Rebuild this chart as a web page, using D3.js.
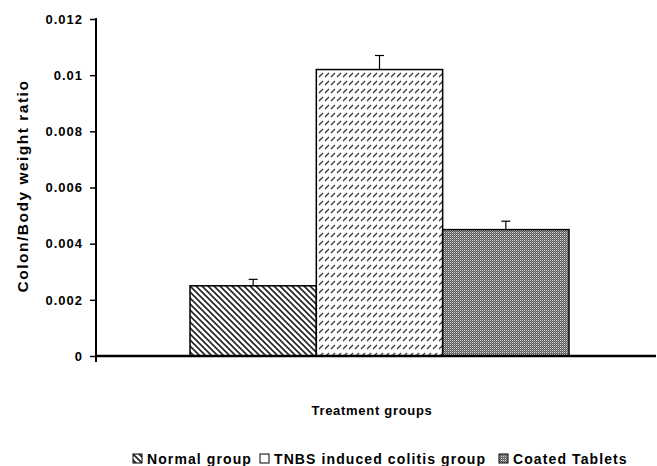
<!DOCTYPE html>
<html>
<head>
<meta charset="utf-8">
<script src="https://cdn.jsdelivr.net/npm/d3@7"></script>
<style>
  body { margin: 0; background: #fff; }
  text { font-family: Arial, "Liberation Sans", sans-serif; font-weight: bold; fill: #000; }
</style>
</head>
<body>
<svg id="chart" width="657" height="466"></svg>
<script>
// data
var groups = ['Normal group', 'TNBS induced colitis group', 'Coated Tablets'];
var means = [0.0025, 0.0102, 0.0045];
var errors = [0.00023, 0.0005, 0.0003];
var yTicks = [0, 0.002, 0.004, 0.006, 0.008, 0.01, 0.012];
var yTickLabels = ['0', '0.002', '0.004', '0.006', '0.008', '0.01', '0.012'];
var patternIds = ['pat-normal', 'pat-tnbs', 'pat-coated'];
var legendFills = ['url(#pat-normal)', '#fff', 'url(#pat-coated)'];

var svg = d3.select('#chart');
var plotLeft = 96, plotRight = 656, plotTop = 19, plotBottom = 356;

// fill patterns
var defs = svg.append('defs');

var p1 = defs.append('pattern')
    .attr('id', 'pat-normal')
    .attr('patternUnits', 'userSpaceOnUse')
    .attr('width', 6).attr('height', 6);
p1.append('rect').attr('width', 6).attr('height', 6).attr('fill', '#fff');
p1.append('path')
    .attr('d', 'M-1.5,-1.5 L7.5,7.5 M-1.5,4.5 L1.5,7.5 M4.5,-1.5 L7.5,1.5')
    .attr('stroke', '#222').attr('stroke-width', 1.6);

var p2 = defs.append('pattern')
    .attr('id', 'pat-tnbs')
    .attr('patternUnits', 'userSpaceOnUse')
    .attr('width', 6).attr('height', 8);
p2.append('rect').attr('width', 6).attr('height', 8).attr('fill', '#fff');
p2.append('path')
    .attr('d', 'M1,5 L5,1')
    .attr('stroke', '#333').attr('stroke-width', 1.3);

var p3 = defs.append('pattern')
    .attr('id', 'pat-coated')
    .attr('patternUnits', 'userSpaceOnUse')
    .attr('width', 2).attr('height', 2);
p3.append('rect').attr('width', 2).attr('height', 2).attr('fill', '#5a5a5a');
p3.append('rect').attr('width', 1).attr('height', 1).attr('fill', '#d8d8d8');
p3.append('rect').attr('x', 1).attr('y', 1).attr('width', 1).attr('height', 1).attr('fill', '#8a8a8a');

// scales
var x = d3.scaleBand()
    .domain(groups)
    .range([190, 569])
    .padding(0);

var y = d3.scaleLinear()
    .domain([0, 0.012])
    .range([plotBottom, plotTop]);

// bars
svg.selectAll('rect.bar')
    .data(groups)
    .enter()
    .append('rect')
    .attr('class', 'bar')
    .attr('x', function(d) { return x(d); })
    .attr('y', function(d, i) { return y(means[i]); })
    .attr('width', x.bandwidth())
    .attr('height', function(d, i) { return y(0) - y(means[i]); })
    .attr('fill', function(d, i) { return 'url(#' + patternIds[i] + ')'; })
    .attr('stroke', '#000')
    .attr('stroke-width', 1.5);

// error bars (upper only)
var err = svg.selectAll('g.err')
    .data(groups)
    .enter()
    .append('g')
    .attr('class', 'err');

err.append('line')
    .attr('x1', function(d) { return x(d) + x.bandwidth() / 2; })
    .attr('x2', function(d) { return x(d) + x.bandwidth() / 2; })
    .attr('y1', function(d, i) { return y(means[i]); })
    .attr('y2', function(d, i) { return y(means[i] + errors[i]); })
    .attr('stroke', '#000').attr('stroke-width', 1.2);

err.append('line')
    .attr('x1', function(d) { return x(d) + x.bandwidth() / 2 - 4.5; })
    .attr('x2', function(d) { return x(d) + x.bandwidth() / 2 + 4.5; })
    .attr('y1', function(d, i) { return y(means[i] + errors[i]); })
    .attr('y2', function(d, i) { return y(means[i] + errors[i]); })
    .attr('stroke', '#000').attr('stroke-width', 1.2);

// y axis
var yAxis = d3.axisLeft(y)
    .tickValues(yTicks)
    .tickFormat(function(d, i) { return yTickLabels[i]; })
    .tickSize(6)
    .tickSizeOuter(0)
    .tickPadding(7);

var gy = svg.append('g')
    .attr('transform', 'translate(' + plotLeft + ',0)')
    .call(yAxis);
gy.select('.domain').remove();
gy.selectAll('.tick line').attr('stroke', '#000').attr('stroke-width', 1.5);
gy.selectAll('.tick text')
    .style('font-size', '13px')
    .style('letter-spacing', '1px')
    .style('font-family', 'Arial, "Liberation Sans", sans-serif')
    .style('font-weight', 'bold');

svg.append('line')
    .attr('x1', plotLeft).attr('x2', plotLeft)
    .attr('y1', y(0.012) - 1).attr('y2', plotBottom + 6)
    .attr('stroke', '#000').attr('stroke-width', 2);

// x axis line
svg.append('line')
    .attr('x1', plotLeft - 1).attr('x2', plotRight)
    .attr('y1', plotBottom).attr('y2', plotBottom)
    .attr('stroke', '#000').attr('stroke-width', 2.5);

// axis titles
svg.append('text')
    .attr('transform', 'translate(28,186) rotate(-90)')
    .attr('text-anchor', 'middle')
    .style('font-size', '15.5px')
    .style('letter-spacing', '1.5px')
    .text('Colon/Body weight ratio');

svg.append('text')
    .attr('x', 372).attr('y', 415)
    .attr('text-anchor', 'middle')
    .style('font-size', '13px')
    .style('letter-spacing', '0.7px')
    .text('Treatment groups');

// legend
var legendX = [133, 260, 499];
var leg = svg.selectAll('g.legend')
    .data(groups)
    .enter()
    .append('g')
    .attr('class', 'legend')
    .attr('transform', function(d, i) { return 'translate(' + legendX[i] + ',454)'; });

leg.append('rect')
    .attr('x', 0).attr('y', 0)
    .attr('width', 9).attr('height', 9)
    .attr('fill', function(d, i) { return legendFills[i]; })
    .attr('stroke', '#000').attr('stroke-width', 1);

leg.append('text')
    .attr('x', 14).attr('y', 10)
    .style('font-size', '14px')
    .style('letter-spacing', '1.1px')
    .text(function(d) { return d; });
</script>
</body>
</html>
